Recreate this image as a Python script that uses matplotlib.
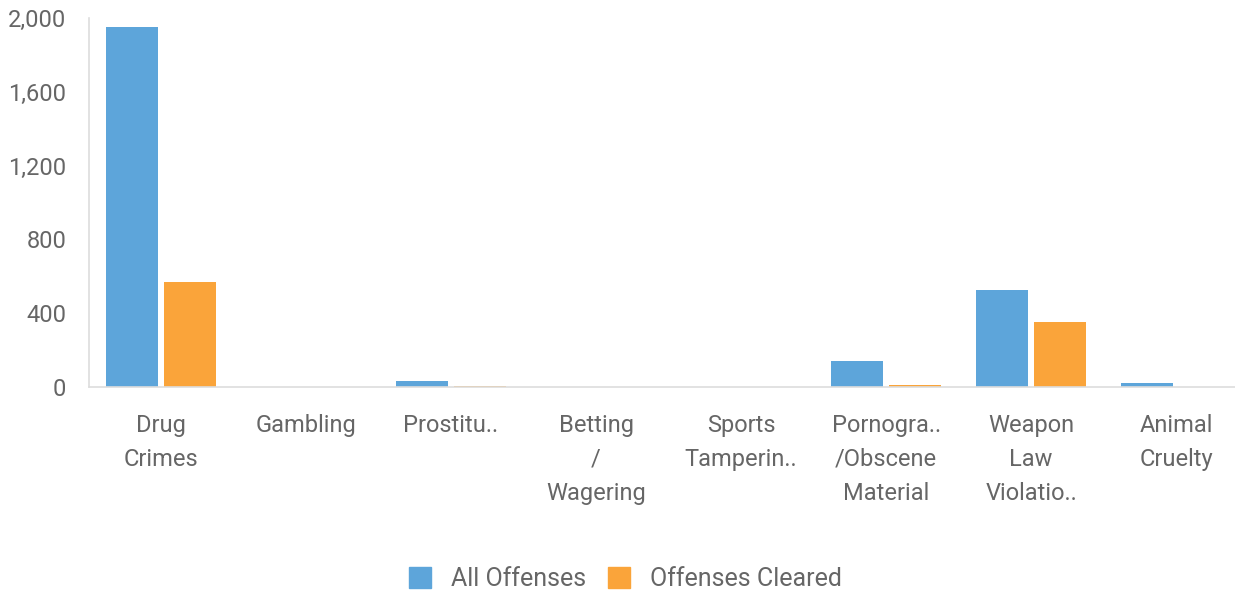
import matplotlib

matplotlib.use("Agg")
import matplotlib.pyplot as plt
import numpy as np
from matplotlib.patches import Patch
from matplotlib.ticker import FuncFormatter

plt.rcParams["font.family"] = ["Roboto", "DejaVu Sans"]

categories = [
    "Drug\nCrimes",
    "Gambling",
    "Prostitu..",
    "Betting\n/\nWagering",
    "Sports\nTamperin..",
    "Pornogra..\n/Obscene\nMaterial",
    "Weapon\nLaw\nViolatio..",
    "Animal\nCruelty",
]
all_offenses = [1951, 0, 34, 0, 0, 141, 526, 20]
offenses_cleared = [569, 0, 3, 0, 0, 10, 354, 2]
y_ticks = [0, 400, 800, 1200, 1600, 2000]

BLUE = "#5DA5DA"
ORANGE = "#FAA43A"
TEXT = "#666666"
AXIS = "#DDDDDD"

fig = plt.figure(figsize=(12.35, 5.95), dpi=100)
ax = fig.add_axes([0.0717, 0.3496, 0.9393, 0.6202])

x = np.arange(len(categories))
width = 0.36
gap = 0.02
ax.bar(x - width / 2 - gap, all_offenses, width, color=BLUE, label="All Offenses")
ax.bar(x + width / 2 + gap, offenses_cleared, width, color=ORANGE, label="Offenses Cleared")

ax.set_xlim(-0.5, len(categories) - 0.5)
ax.set_ylim(0, 2000)
ax.set_yticks(y_ticks)
ax.yaxis.set_major_formatter(FuncFormatter(lambda v, _: f"{int(v):,}"))
ax.set_xticks(x)
ax.set_xticklabels(categories, linespacing=1.6)

for side in ("top", "right"):
    ax.spines[side].set_visible(False)
for side in ("left", "bottom"):
    ax.spines[side].set_color(AXIS)
    ax.spines[side].set_linewidth(1.2)

ax.tick_params(axis="both", length=0, colors=TEXT, labelsize=17)
ax.tick_params(axis="y", pad=16)
ax.tick_params(axis="x", pad=19.5)

handles = [Patch(color=BLUE), Patch(color=ORANGE)]
fig.legend(
    handles,
    ["All Offenses", "Offenses Cleared"],
    loc="center",
    bbox_to_anchor=(0.5065, 0.027),
    ncol=2,
    frameon=False,
    fontsize=18,
    labelcolor=TEXT,
    handlelength=0.9,
    handleheight=0.9,
    handletextpad=0.8,
    columnspacing=0.85,
)

fig.savefig("out.png", dpi=100)
plt.close(fig)
